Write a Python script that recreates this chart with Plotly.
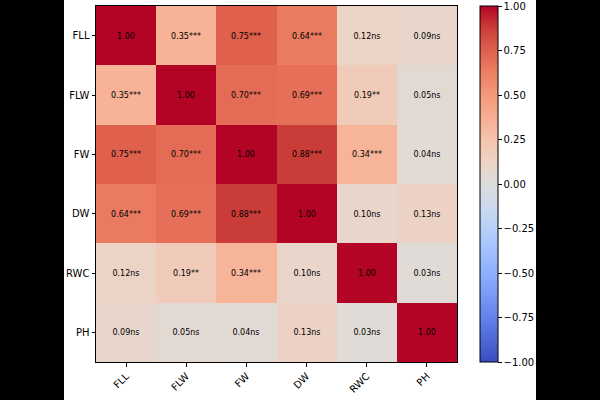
import plotly.graph_objects as go

labels = ["FLL", "FLW", "FW", "DW", "RWC", "PH"]
corr = [
    [1.00, 0.35, 0.75, 0.64, 0.12, 0.09],
    [0.35, 1.00, 0.70, 0.69, 0.19, 0.05],
    [0.75, 0.70, 1.00, 0.88, 0.34, 0.04],
    [0.64, 0.69, 0.88, 1.00, 0.10, 0.13],
    [0.12, 0.19, 0.34, 0.10, 1.00, 0.03],
    [0.09, 0.05, 0.04, 0.13, 0.03, 1.00],
]
sig = [
    ["", "***", "***", "***", "ns", "ns"],
    ["***", "", "***", "***", "**", "ns"],
    ["***", "***", "", "***", "***", "ns"],
    ["***", "***", "***", "", "ns", "ns"],
    ["ns", "**", "***", "ns", "", "ns"],
    ["ns", "ns", "ns", "ns", "ns", ""],
]
cbar_ticks = [-1.0, -0.75, -0.5, -0.25, 0.0, 0.25, 0.5, 0.75, 1.0]

text = [[f"{v:.2f}{s}" for v, s in zip(rv, rs)] for rv, rs in zip(corr, sig)]

coolwarm = [
    (0.0, "rgb(59,76,192)"), (0.0625, "rgb(77,104,215)"), (0.125, "rgb(98,130,234)"),
    (0.1875, "rgb(119,154,247)"), (0.25, "rgb(141,176,254)"), (0.3125, "rgb(162,193,255)"),
    (0.375, "rgb(184,208,249)"), (0.4375, "rgb(204,217,238)"), (0.5, "rgb(221,221,221)"),
    (0.5625, "rgb(236,211,197)"), (0.625, "rgb(245,196,173)"), (0.6875, "rgb(247,174,145)"),
    (0.75, "rgb(244,154,123)"), (0.8125, "rgb(236,127,99)"), (0.875, "rgb(222,96,77)"),
    (0.9375, "rgb(203,62,56)"), (1.0, "rgb(180,4,38)"),
]

L, R, T, B = 96, 143, 5, 34
PW = 600 - L - R
PH_ = 400 - T - B

fig = go.Figure(go.Heatmap(
    z=corr, x=labels, y=labels, text=text, texttemplate="%{text}",
    textfont=dict(family="DejaVu Sans", size=8, color="black"),
    colorscale=coolwarm, zmin=-1, zmax=1, xgap=0, ygap=0,
    colorbar=dict(
        x=(480 - L) / PW, xanchor="left", xref="paper", xpad=0, ypad=0,
        y=0, yanchor="bottom", len=1, lenmode="fraction",
        thickness=18, outlinecolor="black", outlinewidth=1,
        tickvals=cbar_ticks, ticktext=[f"{t:.2f}".replace("-", "\u2212") for t in cbar_ticks],
        ticks="outside", ticklen=3.5, tickcolor="black",
        tickfont=dict(family="DejaVu Sans", size=10, color="black"),
    ),
))

fig.update_xaxes(
    showgrid=False, zeroline=False, showline=True, linecolor="black", linewidth=1, mirror=True,
    ticks="outside", ticklen=3.5, tickcolor="black", tickangle=-45,
    tickfont=dict(family="DejaVu Sans", size=10, color="black"),
)
fig.update_yaxes(
    autorange="reversed", showgrid=False, zeroline=False, showline=True, linecolor="black",
    linewidth=1, mirror=True, ticks="outside", ticklen=3.5, tickcolor="black",
    tickfont=dict(family="DejaVu Sans", size=10, color="black"),
)

fig.add_shape(
    type="rect", xref="paper", yref="paper", layer="below",
    x0=(64 - L) / PW, x1=(536 - L) / PW,
    y0=(400 - B - 400) / PH_ - 0.05, y1=(400 - B) / PH_ + 0.05,
    fillcolor="white", line=dict(width=0),
)

fig.update_layout(
    width=600, height=400, margin=dict(l=L, r=R, t=T, b=B),
    paper_bgcolor="black", plot_bgcolor="white", showlegend=False,
)

fig.write_html("out.html")
